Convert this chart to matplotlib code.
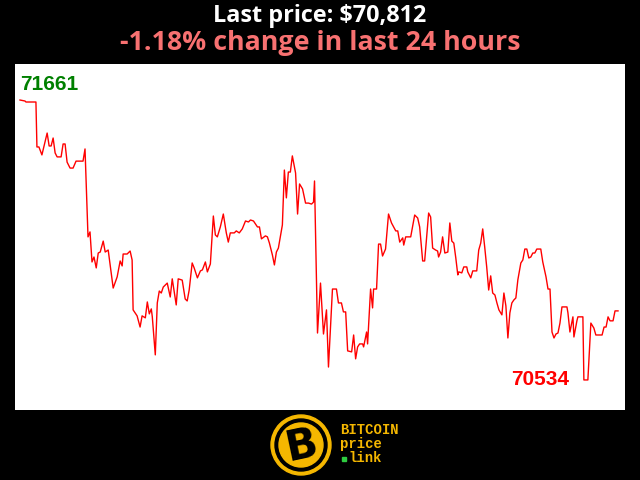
import matplotlib
matplotlib.use("Agg")
import matplotlib.pyplot as plt
from matplotlib.patches import Circle

# hours since start of the 24h window, and BTC price at that time
hours = [0.00, 0.20, 0.24, 0.64, 0.68, 0.76, 0.88, 1.09, 1.17, 1.25, 1.33, 1.41, 1.49, 1.65, 1.73, 1.81,
         1.89, 2.01, 2.13, 2.25, 2.53, 2.61, 2.73, 2.81, 2.89, 2.97, 3.06, 3.14, 3.22, 3.34, 3.42, 3.54,
         3.66, 3.74, 3.90, 4.02, 4.10, 4.14, 4.30, 4.42, 4.50, 4.54, 4.70, 4.82, 4.90, 5.03, 5.11, 5.19,
         5.27, 5.31, 5.43, 5.51, 5.59, 5.67, 5.75, 5.91, 6.03, 6.11, 6.27, 6.35, 6.51, 6.63, 6.71, 6.79,
         6.91, 6.99, 7.12, 7.24, 7.32, 7.44, 7.52, 7.64, 7.76, 7.84, 7.92, 8.04, 8.16, 8.28, 8.36, 8.44,
         8.60, 8.68, 8.80, 8.92, 9.05, 9.17, 9.25, 9.37, 9.53, 9.61, 9.69, 9.85, 9.93, 10.01, 10.13, 10.21,
         10.29, 10.37, 10.53, 10.61, 10.69, 10.77, 10.85, 10.93, 11.06, 11.14, 11.22, 11.34, 11.46, 11.58,
         11.70, 11.78, 11.82, 11.94, 12.06, 12.18, 12.30, 12.38, 12.54, 12.70, 12.78, 12.90, 12.98, 13.07,
         13.15, 13.31, 13.39, 13.47, 13.55, 13.63, 13.75, 13.79, 13.91, 13.95, 14.07, 14.15, 14.19, 14.31,
         14.39, 14.47, 14.55, 14.67, 14.79, 14.91, 15.08, 15.16, 15.24, 15.36, 15.40, 15.48, 15.68, 15.76,
         15.84, 15.96, 16.04, 16.16, 16.24, 16.40, 16.48, 16.56, 16.68, 16.76, 16.80, 16.88, 16.96, 17.05,
         17.17, 17.25, 17.33, 17.41, 17.49, 17.57, 17.61, 17.73, 17.81, 17.93, 17.97, 18.09, 18.17, 18.33,
         18.41, 18.49, 18.57, 18.65, 18.73, 18.81, 18.89, 18.97, 19.06, 19.14, 19.22, 19.34, 19.42, 19.50,
         19.58, 19.66, 19.74, 19.82, 19.90, 19.98, 20.10, 20.18, 20.26, 20.34, 20.42, 20.50, 20.58, 20.66,
         20.74, 20.90, 20.98, 21.11, 21.19, 21.27, 21.35, 21.43, 21.51, 21.59, 21.67, 21.75, 21.95, 21.99,
         22.07, 22.19, 22.23, 22.35, 22.39, 22.59, 22.63, 22.79, 22.91, 23.03, 23.11, 23.36, 23.44, 23.52,
         23.60, 23.68, 23.80, 23.88, 24.00]
prices = [71661, 71657, 71653, 71653, 71472, 71472, 71440, 71528, 71476, 71476, 71508, 71448, 71432, 71432, 71484, 71484,
          71411, 71387, 71387, 71415, 71415, 71464, 71110, 71130, 71009, 71029, 70985, 71045, 71049, 71093, 71049, 71057,
          70965, 70904, 70949, 71013, 70993, 71041, 71041, 71053, 71017, 70816, 70792, 70747, 70792, 70784, 70848, 70800,
          70820, 70788, 70635, 70844, 70892, 70884, 70908, 70924, 70868, 70941, 70836, 70941, 70936, 70860, 70852, 70896,
          71005, 70985, 70945, 70973, 70977, 71009, 70969, 71001, 71194, 71118, 71110, 71150, 71202, 71126, 71089, 71126,
          71126, 71134, 71126, 71142, 71174, 71170, 71178, 71174, 71150, 71150, 71102, 71114, 71110, 71085, 71037, 70997,
          71049, 71065, 71158, 71379, 71267, 71371, 71371, 71436, 71367, 71202, 71323, 71303, 71246, 71246,
          71242, 71250, 71335, 70723, 70924, 70719, 70816, 70586, 70900, 70900, 70844, 70844, 70808, 70808,
          70651, 70647, 70715, 70619, 70667, 70679, 70679, 70667, 70727, 70679, 70900, 70824, 70900, 70900,
          71081, 71081, 71033, 71061, 71202, 71166, 71134, 71134, 71089, 71106, 71077, 71110, 71110, 71154,
          71198, 71186, 71150, 71013, 71013, 71206, 71190, 71065, 71057, 71053, 71029, 71049, 71110, 71045,
          71049, 71166, 71093, 71085, 71025, 70957, 70969, 70965, 70989, 70989, 70969, 70945, 70973, 70973,
          71057, 71085, 71142, 71069, 70989, 70896, 70953, 70884, 70876, 70844, 70816, 70796, 70884, 70832,
          70703, 70804, 70844, 70856, 70864, 70937, 71005, 71017, 71061, 71061, 71025, 71029, 71045, 71045,
          71061, 71061, 71009, 70949, 70900, 70900, 70727, 70703, 70719, 70723, 70763, 70828, 70828, 70804,
          70727, 70788, 70707, 70772, 70788, 70788, 70534, 70534, 70763, 70743, 70715, 70715, 70747, 70747,
          70788, 70772, 70772, 70812, 70812]

last_price = prices[-1]
change_pct = -1.18
hi = max(prices)
lo = min(prices)

fig = plt.figure(figsize=(6.4, 4.8), dpi=100, facecolor="black")
ax = fig.add_axes([15/640, 70/480, 610/640, 346/480])
ax.set_facecolor("white")
ax.plot(hours, prices, color="#ff0000", lw=1.0)
ax.set_xlim(-0.2, 24.28)
ax.set_ylim(70413, 71806)
ax.set_xticks([])
ax.set_yticks([])
for s in ax.spines.values():
    s.set_visible(False)

# high / low labels
ax.text(0.0, hi + 25, str(hi), color="#008000", fontsize=15, fontweight="bold",
        family="Liberation Sans", ha="left", va="bottom")
ax.text(hours[prices.index(lo)] - 0.6, lo, str(lo), color="#ff0000", fontsize=15,
        fontweight="bold", family="Liberation Sans", ha="right", va="center")

# titles
fig.text(0.5, 1 - 16/480, f"Last price: ${last_price:,}", color="white", fontsize=16.8,
         fontweight="bold", family="Open Sans", ha="center", va="center")
fig.text(0.5, 1 - 43/480, f"{change_pct:.2f}% change in last 24 hours", color="#f87171",
         fontsize=19.3, fontweight="bold", family="Open Sans", ha="center", va="center")

# logo
logo = fig.add_axes([0, 0, 1, 70/480])
logo.set_xlim(0, 640)
logo.set_ylim(70, 0)
logo.set_aspect("equal")
logo.axis("off")
gold = "#f5b700"
logo.add_patch(Circle((301, 35), 30, color=gold))
logo.add_patch(Circle((301, 35), 26, color="black"))
logo.add_patch(Circle((301, 35), 22, color=gold))
logo.text(301, 36, "B", color="black", fontsize=30, fontweight="bold", family="DejaVu Sans",
          ha="center", va="center", rotation=12)
mono = dict(color=gold, fontsize=10, fontweight="bold", family="Liberation Mono", ha="left", va="center")
logo.text(340, 20, "BITCOIN", **mono)
logo.text(340, 34, "price", **mono)
logo.text(348, 48, "link", **mono)
logo.plot([344], [48.5], marker="s", ms=2.2, color="#2ecc40")

fig.savefig("out.png", dpi=100, facecolor="black")
